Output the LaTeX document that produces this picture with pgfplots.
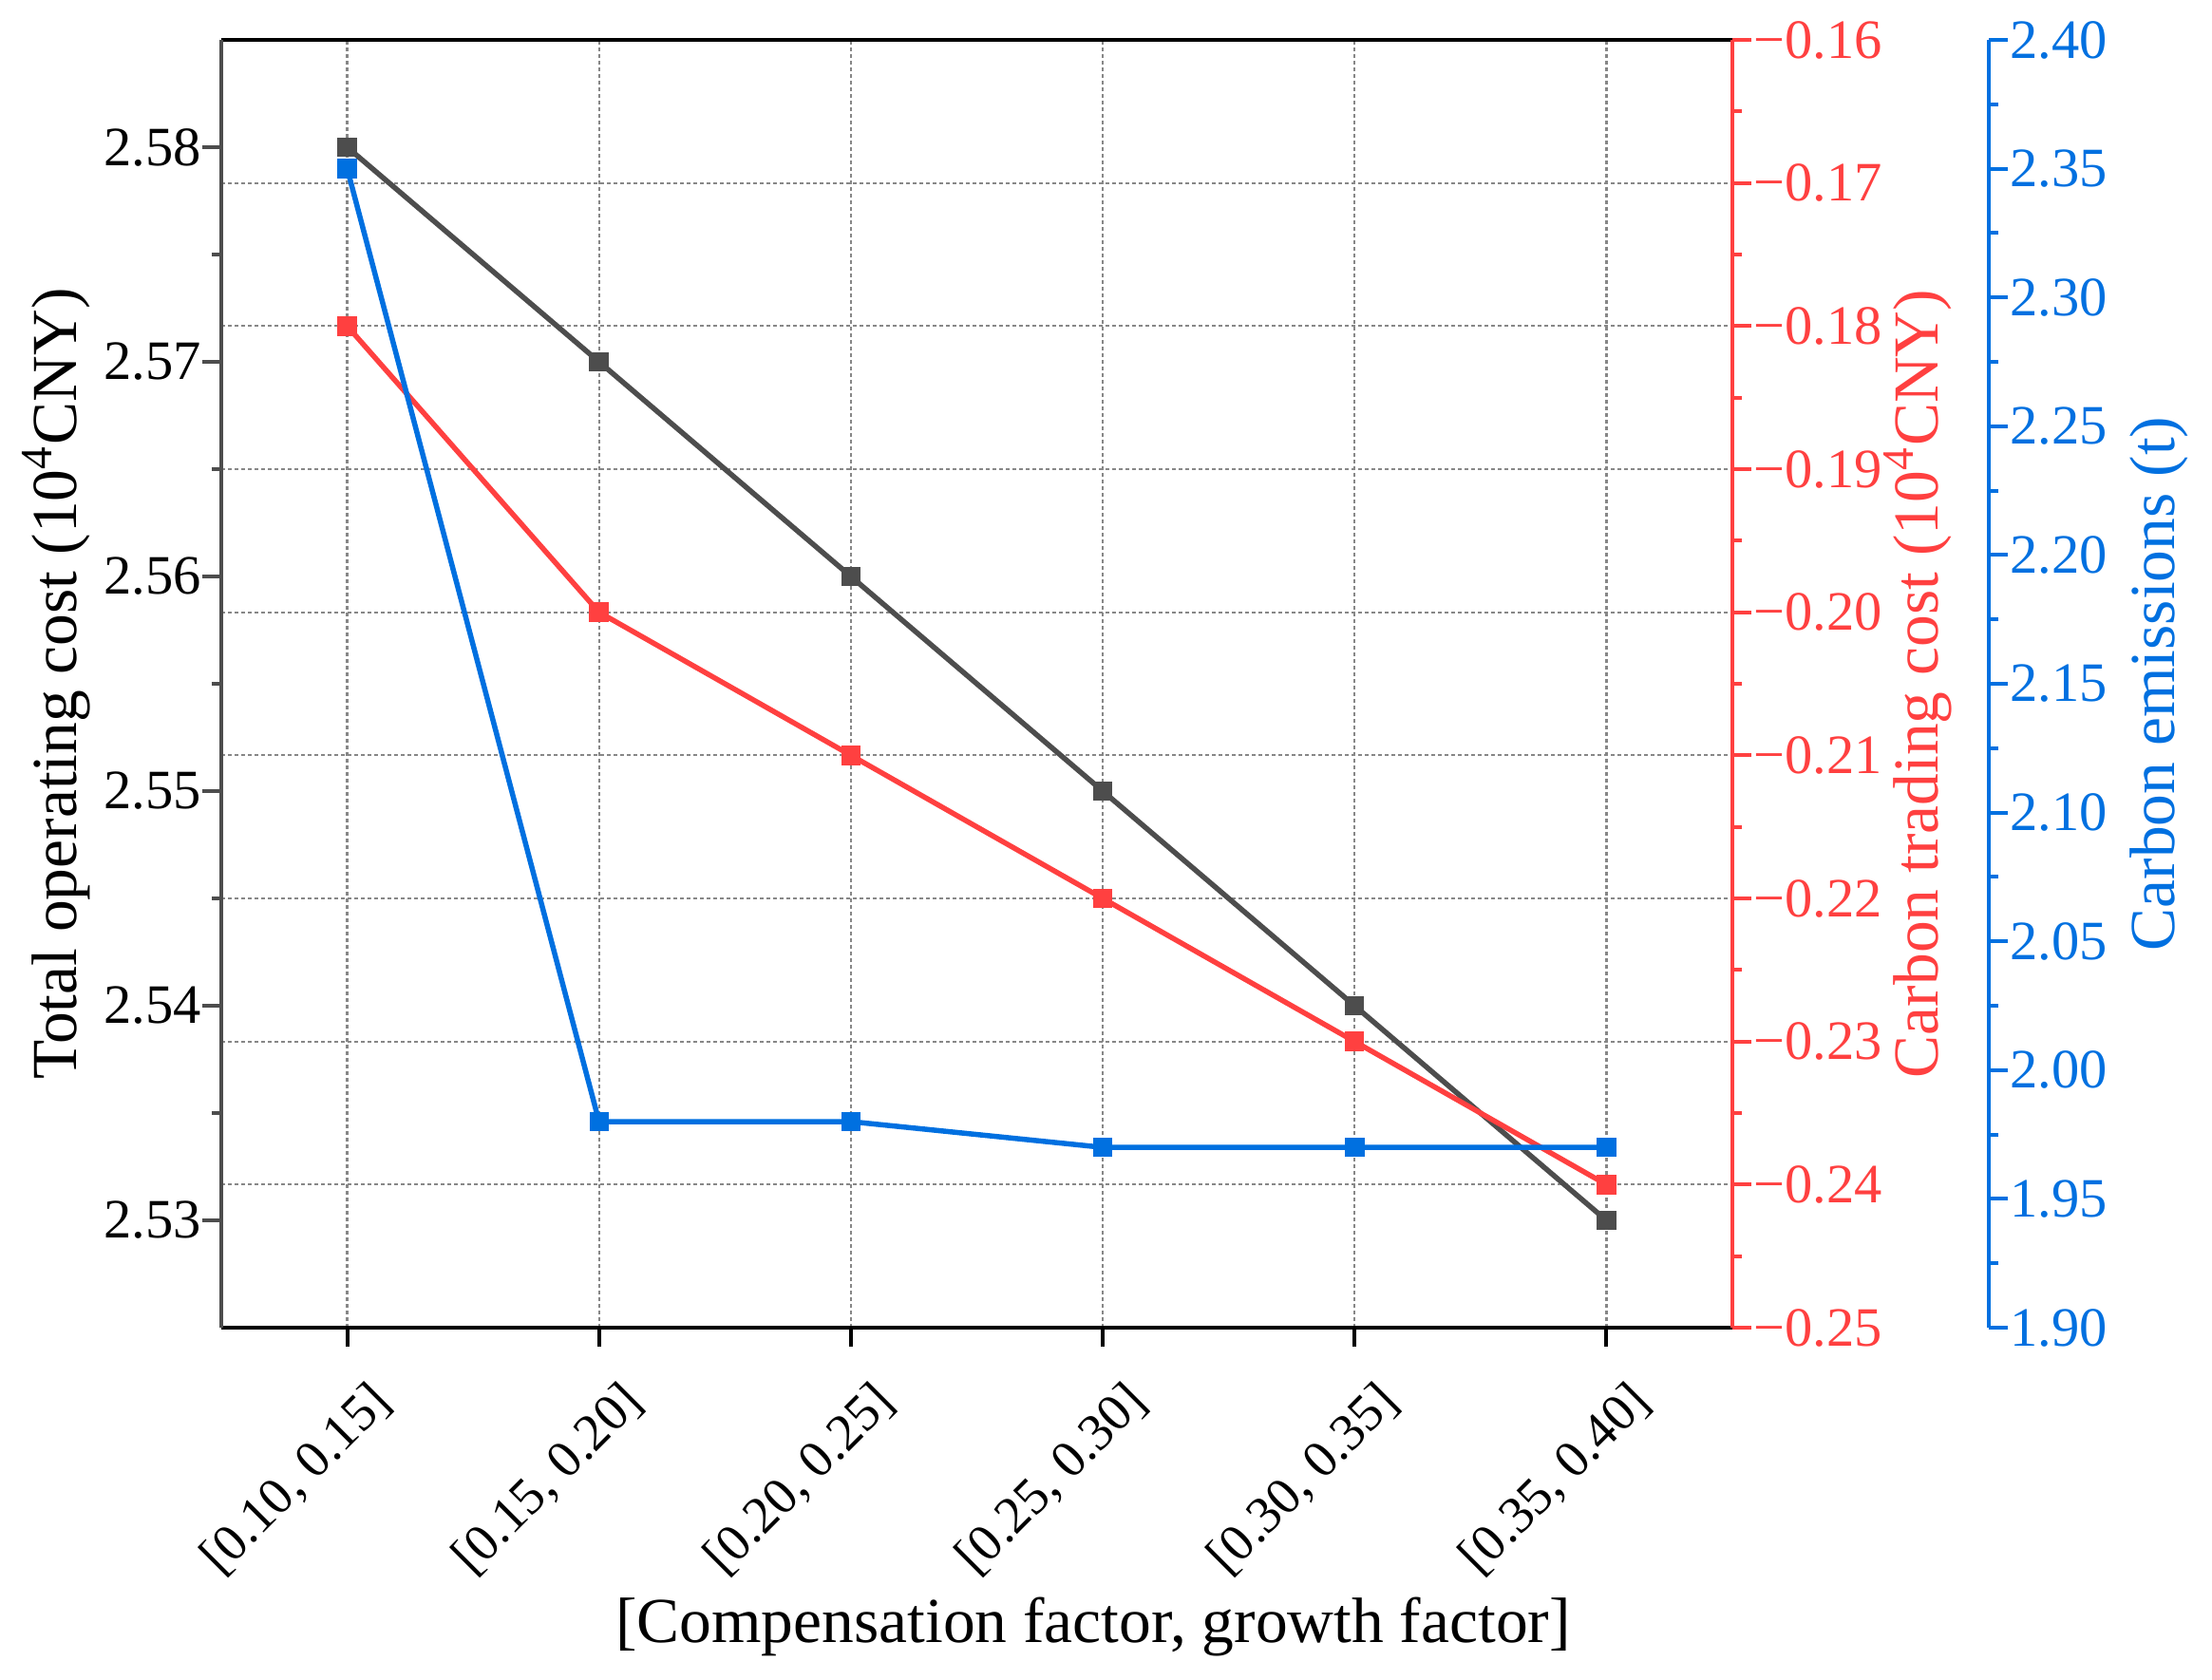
\documentclass[border=0pt]{standalone}
\usepackage{pgfplots}
\pgfplotsset{compat=1.18}
\usepackage{fontspec}
\setmainfont{Liberation Serif}
\definecolor{cgray}{RGB}{77,77,77}
\definecolor{cred}{RGB}{255,64,64}
\definecolor{cblue}{RGB}{0,112,224}
\definecolor{cgrid}{RGB}{135,135,135}
\pgfplotsset{
  base/.style={
    at={(0pt,0pt)}, anchor=south west, scale only axis,
    width=318.2pt, height=271.2pt,
    xmin=-0.5, xmax=5.5,
    /pgf/number format/assume math mode=true,
    tick label style={font=\fontsize{11.7}{14}\selectfont},
    label style={font=\fontsize{13.5}{16}\selectfont},
    major tick length=4pt, minor tick length=2pt,
    tick align=outside,
  },
  ser/.style={mark=square*, mark size=1.85pt, line width=1.1pt, mark options={solid, line width=0.4pt}},
}
\begin{document}
\begin{tikzpicture}
\useasboundingbox (-46.6pt,-74pt) rectangle (419.2pt,279.6pt);
% grid
\begin{axis}[base, ymin=-0.25, ymax=-0.16,
  xtick={0,1,2,3,4,5}, ytick={-0.24,-0.23,-0.22,-0.21,-0.20,-0.19,-0.18,-0.17},
  xticklabels={}, yticklabels={},
  xmajorgrids, ymajorgrids,
  grid style={cgrid, line width=0.45pt, dash pattern=on 0.8pt off 0.6pt},
  axis line style={draw=none}, tick style={draw=none}]
\end{axis}
% main axis
\begin{axis}[base, ymin=2.525, ymax=2.585,
  axis x line*=box, axis y line*=left,
  x axis line style={black, line width=0.9pt, -},
  y axis line style={cgray, line width=0.8pt, -},
  xtick={0,1,2,3,4,5}, xtick pos=bottom,
  xticklabels={{[0.10, 0.15]},{[0.15, 0.20]},{[0.20, 0.25]},{[0.25, 0.30]},{[0.30, 0.35]},{[0.35, 0.40]}},
  xticklabel style={font=\fontsize{11}{13}\selectfont, xshift=10pt, yshift=-7.5pt, rotate=45, anchor=east},
  x tick style={black, line width=0.8pt},
  ytick={2.53,2.54,2.55,2.56,2.57,2.58}, minor y tick num=1,
  yticklabel style={xshift=3.3pt, /pgf/number format/fixed, /pgf/number format/fixed zerofill, /pgf/number format/precision=2},
  y tick style={cgray, line width=0.8pt},
  ylabel={Total operating cost (10\textsuperscript{4}CNY)},
  ylabel style={at={(axis description cs:-0.1094,0.5)}, anchor=center},
  xlabel={[Compensation factor, growth factor]},
  xlabel style={at={(axis description cs:0.577,-0.2323)}, anchor=center}]
\addplot[ser, color=cgray] coordinates {(0,2.58)(1,2.57)(2,2.56)(3,2.55)(4,2.54)(5,2.53)};
\end{axis}
% red axis
\begin{axis}[base, ymin=-0.25, ymax=-0.16,
  axis y line*=right, axis x line=none,
  y axis line style={cred, line width=0.8pt, -},
  ytick={-0.25,-0.24,-0.23,-0.22,-0.21,-0.20,-0.19,-0.18,-0.17,-0.16},
  yticklabels={−0.25,−0.24,−0.23,−0.22,−0.21,−0.20,−0.19,−0.18,−0.17,−0.16},
  minor y tick num=1,
  y tick style={cred, line width=0.8pt},
  yticklabel style={cred, xshift=-3pt},
  ylabel={Carbon trading cost (10\textsuperscript{4}CNY)},
  ylabel style={cred, at={(axis description cs:1.123,0.5)}, anchor=center}]
\addplot[ser, color=cred] coordinates {(0,-0.18)(1,-0.20)(2,-0.21)(3,-0.22)(4,-0.23)(5,-0.24)};
\end{axis}
% blue axis
\begin{axis}[base, width=372.2pt, xmin=-0.5, xmax=6.5183, ymin=1.90, ymax=2.40,
  axis y line*=right, axis x line=none,
  y axis line style={cblue, line width=0.8pt, -},
  ytick={1.90,1.95,2.00,2.05,2.10,2.15,2.20,2.25,2.30,2.35,2.40},
  minor y tick num=1,
  yticklabel style={cblue, xshift=-3pt, /pgf/number format/fixed, /pgf/number format/fixed zerofill, /pgf/number format/precision=2},
  y tick style={cblue, line width=0.8pt},
  ylabel={Carbon emissions (t)},
  ylabel style={cblue, at={(axis description cs:1.0962,0.5)}, anchor=center}]
\addplot[ser, color=cblue] coordinates {(0,2.35)(1,1.98)(2,1.98)(3,1.97)(4,1.97)(5,1.97)};
\end{axis}
\end{tikzpicture}
\end{document}
